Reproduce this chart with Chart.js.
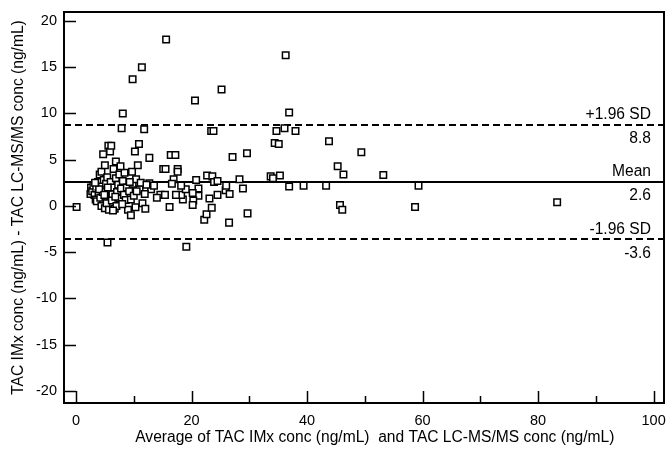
<!DOCTYPE html>
<html>
<head>
<meta charset="utf-8">
<script src="https://cdn.jsdelivr.net/npm/chart.js@4/dist/chart.umd.min.js"></script>
<style>
  html, body { margin: 0; padding: 0; background: #fff; }
  #wrap { width: 666px; height: 451px; }
</style>
</head>
<body>
<div id="wrap"><canvas id="baChart" width="666" height="451"></canvas></div>
<script>
// Bland-Altman: mean of the two methods vs. difference (IMx - LC-MS/MS)
const averages = [
  0.1, 15.6, 36.3, 25.2, 20.6, 36.9, 23.4, 23.8, 34.7, 36.1,
  38.0, 34.4, 35.1, 43.8, 27.1, 29.6, 45.3, 46.3, 33.7, 34.1,
  35.3, 28.3, 36.9, 39.4, 43.3, 28.9, 45.7, 46.1, 29.7, 26.5,
  19.1, 22.2, 22.6, 23.5, 23.1, 24.5, 25.9, 26.6, 26.0, 22.7,
  23.6, 23.9, 24.5, 20.8, 21.2, 21.2, 20.2, 20.3, 20.2, 18.5,
  18.2, 17.3, 19.0, 18.2, 16.2, 16.4, 17.2, 15.1, 15.5, 17.6,
  17.6, 16.9, 16.6, 13.0, 12.7, 12.7, 14.6, 15.4, 49.4, 53.2,
  59.3, 58.7, 83.3, 9.8, 11.4, 8.1, 7.9, 11.8, 5.45,
  2.5, 2.6, 2.8, 3.0, 3.2, 3.4, 3.6, 3.5, 3.8, 3.9,
  4.1, 4.2, 4.4, 4.4, 4.5, 4.6, 4.7, 4.8, 5.0, 5.0,
  5.1, 5.2, 5.3, 5.4, 5.6, 5.7, 5.8, 5.9, 6.0, 6.1,
  6.2, 6.3, 6.5, 6.5, 6.7, 6.9, 6.9, 7.0, 7.1, 7.3,
  7.5, 7.6, 7.8, 8.1, 8.3, 8.4, 8.6, 8.8, 9.0, 9.2,
  9.5, 9.5, 9.7, 9.8, 10.0, 10.2, 10.3, 10.4, 10.7, 10.9,
  11.0, 11.2, 11.5, 11.9, 12.2, 13.5, 14.0, 5.5, 6.8, 4.0,
  8.0, 9.3, 10.5, 3.3, 4.9, 6.4, 7.7, 12.0
];
const differences = [
  -0.1, 18.0, 16.3, 12.6, 11.4, 10.1, 8.1, 8.1, 8.1, 8.4,
  8.1, 6.8, 6.7, 7.0, 5.3, 5.7, 4.3, 3.4, 3.2, 3.0,
  3.3, 2.9, 2.1, 2.2, 2.2, 1.9, 0.1, -0.4, -0.8, -1.8,
  -4.4, -1.5, -0.9, -0.2, 0.8, 1.2, 1.7, 1.3, 2.2, 3.3,
  3.2, 2.6, 2.7, 2.8, 1.9, 1.1, 1.4, 0.6, 0.1, 0.7,
  1.2, 1.2, 1.8, 2.2, -0.1, 5.5, 5.5, 4.0, 4.0, 4.0,
  3.7, 2.9, 2.4, 1.8, 5.2, 2.45, 1.2, 1.2, 5.8, 3.35,
  2.2, -0.1, 0.4, 13.7, 15.0, 10.0, 8.4, 8.3, -3.95,
  1.3, 2.0, 1.6, 2.2, 1.2, 0.7, 0.5, 1.9, 2.6, 1.4,
  3.4, 0.9, 3.7, 0.0, 2.1, 1.5, 5.6, 2.8, 4.4, -0.25,
  1.0, 2.4, 0.3, 3.1, 6.5, -0.4, 1.8, 5.9, 2.6, 6.5,
  0.6, 1.3, 4.0, 2.0, -0.3, 4.8, 3.0, 0.0, 1.5, 2.3,
  3.4, 0.8, 1.9, 2.7, 1.2, 3.6, 0.65, 2.0, -0.4, 1.6,
  -1.0, 0.7, 3.7, 2.4, 1.1, 5.9, -0.15, 2.9, 4.4, 6.7,
  1.8, 2.5, 0.3, 1.3, 2.3, 2.2, 0.9, 2.0, 1.0, 1.8,
  0.2, 2.6, 1.6, 2.5, 1.2, -0.5, 4.3, -0.3
];

// reference lines: upper limit, mean, lower limit
const refValues = [8.8, 2.6, -3.6];
const refNames = ['+1.96 SD', 'Mean', '-1.96 SD'];
const refLabels = ['8.8', '2.6', '-3.6'];
const refDashed = [true, false, true];

const xTicks = [0, 20, 40, 60, 80, 100];
const xMinorTicks = [10, 30, 50, 70, 90];
const yTicks = [-20, -15, -10, -5, 0, 5, 10, 15, 20];

const FAMILY = 'Arial, "Liberation Sans", sans-serif';
const TICK_FONT = { family: FAMILY, size: 14.5 };
const TEXT_FONT = { family: FAMILY, size: 15.6 };

const baPlugin = {
  id: 'baPlugin',
  beforeDatasetsDraw(chart) {
    const { ctx, chartArea: a, scales: { y } } = chart;
    ctx.save();
    ctx.strokeStyle = '#000';
    ctx.lineWidth = 2;
    refValues.forEach((v, i) => {
      const py = Math.round(y.getPixelForValue(v));
      ctx.setLineDash(refDashed[i] ? [7, 4] : []);
      ctx.beginPath();
      ctx.moveTo(a.left, py);
      ctx.lineTo(a.right, py);
      ctx.stroke();
    });
    ctx.setLineDash([]);
    ctx.fillStyle = '#000';
    ctx.font = TEXT_FONT.size + 'px ' + FAMILY;
    ctx.textAlign = 'right';
    ctx.textBaseline = 'middle';
    refValues.forEach((v, i) => {
      const py = y.getPixelForValue(v);
      ctx.fillText(refNames[i], a.right - 13, py - 10);
      ctx.fillText(refLabels[i], a.right - 13, py + 14);
    });
    ctx.restore();
  },
  afterDraw(chart) {
    const { ctx, chartArea: a, scales: { x, y } } = chart;
    ctx.save();
    ctx.strokeStyle = '#000';
    ctx.lineWidth = 2;
    ctx.strokeRect(a.left, a.top, a.right - a.left, a.bottom - a.top);
    // inward tick marks
    ctx.lineWidth = 1.5;
    ctx.beginPath();
    yTicks.forEach(v => {
      const py = Math.round(y.getPixelForValue(v)) + 0.5;
      ctx.moveTo(a.left, py);
      ctx.lineTo(a.left + 12, py);
    });
    xTicks.forEach(v => {
      const px = Math.round(x.getPixelForValue(v)) + 0.5;
      ctx.moveTo(px, a.bottom);
      ctx.lineTo(px, a.bottom - 12);
    });
    xMinorTicks.forEach(v => {
      const px = Math.round(x.getPixelForValue(v)) + 0.5;
      ctx.moveTo(px, a.bottom);
      ctx.lineTo(px, a.bottom - 7);
    });
    ctx.stroke();
    ctx.restore();
  }
};

new Chart(document.getElementById('baChart').getContext('2d'), {
  type: 'scatter',
  data: {
    datasets: [{
      label: 'Difference',
      data: averages.map((a, i) => ({ x: a, y: differences[i] })),
      pointStyle: 'rect',
      pointRadius: 4.6,
      pointBorderWidth: 1.5,
      pointBackgroundColor: '#fff',
      pointBorderColor: '#000'
    }]
  },
  options: {
    responsive: false,
    animation: false,
    layout: { autoPadding: false, padding: { left: 0, right: 2, top: 12, bottom: 0 } },
    plugins: { legend: { display: false }, tooltip: { enabled: false } },
    scales: {
      x: {
        type: 'linear',
        min: -2.08,
        max: 101.8,
        afterBuildTicks: s => { s.ticks = xTicks.map(v => ({ value: v })); },
        afterFit: s => { s.height = 48; s.paddingLeft = 0; s.paddingRight = 0; },
        grid: { display: false, drawTicks: false },
        border: { display: false },
        ticks: { color: '#000', font: TICK_FONT, padding: 9, maxRotation: 0 },
        title: {
          display: true,
          text: '\u00a0\u00a0\u00a0\u00a0\u00a0Average of TAC IMx conc (ng/mL)  and TAC LC-MS/MS conc (ng/mL)',
          color: '#000',
          font: TEXT_FONT,
          padding: { top: 0, bottom: 4 }
        }
      },
      y: {
        type: 'linear',
        min: -21.3,
        max: 20.97,
        afterBuildTicks: s => { s.ticks = yTicks.map(v => ({ value: v })); },
        afterFit: s => { s.width = 64; s.paddingTop = 0; s.paddingBottom = 0; },
        grid: { display: false, drawTicks: false },
        border: { display: false },
        ticks: { color: '#000', font: TICK_FONT, padding: 7 },
        title: {
          display: true,
          text: 'TAC IMx conc (ng/mL) - TAC LC-MS/MS conc (ng/mL)',
          color: '#000',
          font: TEXT_FONT,
          padding: { top: 9, bottom: 0 }
        }
      }
    }
  },
  plugins: [baPlugin]
});
</script>
</body>
</html>
